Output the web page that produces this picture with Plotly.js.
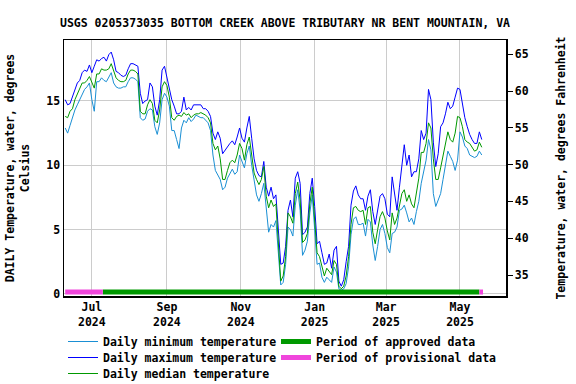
<!DOCTYPE html>
<html><head><meta charset="utf-8">
<script src="https://cdn.plot.ly/plotly-3.0.1.min.js"></script>
<style>html,body{margin:0;padding:0;background:#fff}#chart{width:576px;height:384px}</style>
</head><body><div id="chart"></div>
<script>
// Daily values sampled every 2 days starting 2024-06-09 (degrees Celsius)
const startDate = '2024-06-09';
const stepDays = 2;
const tempMax = [15.1,14.7,14.8,15.3,15.9,16.4,16.6,17.2,17.4,17.3,17.8,17.2,17.7,18.2,18.1,18.3,18.4,18.1,18.6,18.8,
18.2,17.3,17.2,17.0,16.9,17.0,17.5,17.9,17.9,17.8,17.7,15.6,14.8,15.0,15.1,16.4,16.1,14.6,13.9,15.1,
17.4,17.7,16.9,16.1,15.1,14.6,14.0,14.0,14.2,15.3,14.3,14.5,14.3,14.7,14.7,14.7,14.7,14.4,14.4,14.2,
13.8,12.5,12.0,12.6,12.1,10.9,11.2,11.5,11.7,11.9,11.6,12.2,12.9,12.1,11.8,12.9,13.8,12.1,10.5,9.6,
9.2,9.1,10.3,8.3,7.6,8.3,7.4,7.7,5.0,2.3,2.4,3.7,6.5,7.3,6.0,9.0,9.5,8.6,4.6,4.8,
5.2,7.8,9.0,6.8,3.9,4.1,3.2,2.3,2.4,3.1,2.0,3.4,3.7,1.0,0.6,1.1,2.5,3.7,6.9,8.0,
8.4,7.7,7.4,7.4,6.5,7.6,8.1,6.4,5.4,6.5,7.6,7.8,7.4,6.2,6.0,9.1,7.6,6.5,8.3,9.9,
11.6,10.0,10.8,9.1,9.5,9.5,10.5,12.7,12.0,12.5,15.9,15.1,11.8,9.9,10.9,13.0,13.3,14.0,14.9,14.4,
14.6,15.3,16.0,15.9,14.8,13.7,13.0,12.4,12.0,11.7,11.7,12.6,12.0];
const tempMedian = [13.8,13.7,14.2,14.4,15.1,15.5,15.9,16.4,16.4,16.6,16.9,16.4,16.0,17.1,17.1,17.5,17.4,17.4,17.5,17.9,
17.3,16.8,16.6,16.5,16.5,16.6,17.1,17.4,17.4,17.3,17.1,14.2,14.0,14.0,14.7,15.1,14.8,13.5,13.3,14.3,
16.1,16.5,16.2,15.3,13.7,13.5,13.8,13.9,13.8,14.1,13.9,14.0,13.7,13.9,14.0,14.0,14.1,14.0,13.9,13.7,
13.3,11.7,11.2,11.5,10.5,8.9,8.9,9.6,10.2,10.4,10.2,10.8,11.7,11.3,10.4,11.6,12.2,10.8,9.4,8.9,
8.5,8.9,9.9,7.6,6.7,7.3,6.8,7.0,4.0,1.0,1.4,2.9,6.3,6.0,5.5,7.8,8.7,7.3,4.0,4.2,
4.7,7.0,8.3,6.0,3.2,2.9,2.1,1.4,2.0,1.7,1.5,2.6,2.3,0.6,0.4,0.6,1.4,2.9,5.4,6.7,
6.8,6.5,6.4,6.5,5.4,6.7,6.8,4.8,3.9,5.0,6.0,6.4,5.9,4.9,4.2,6.3,5.4,5.9,7.0,7.8,
8.1,7.2,7.7,7.0,6.7,8.0,9.0,11.0,11.0,11.7,13.3,12.9,10.5,8.9,8.9,9.8,10.8,11.7,12.6,12.0,
11.8,12.5,13.8,13.7,13.0,12.0,11.8,11.7,11.4,11.1,11.2,11.8,11.4];
const tempMin = [12.9,12.5,13.1,13.7,14.3,14.7,15.1,15.6,15.9,16.1,16.4,15.1,14.2,16.5,16.5,16.8,16.6,16.5,16.9,17.2,
16.4,16.1,16.0,16.0,16.1,16.1,16.5,16.8,16.8,16.7,16.5,13.7,13.5,13.6,14.2,14.4,14.3,13.0,12.4,13.3,
15.1,15.6,15.3,14.6,12.7,12.7,12.0,11.3,12.9,13.5,13.3,13.7,13.4,13.6,13.9,13.8,13.7,13.7,13.5,13.3,
12.7,10.8,9.6,9.3,8.9,8.1,8.3,9.0,9.4,9.7,9.3,9.5,10.8,10.3,9.8,10.9,11.5,10.0,8.9,7.7,
7.2,7.8,8.6,6.7,4.8,5.4,5.2,5.7,3.3,0.7,0.9,2.3,5.2,5.0,4.5,6.9,8.1,6.5,3.0,3.4,
4.1,6.3,7.7,5.0,2.3,2.4,1.3,0.9,1.3,1.1,0.9,2.1,1.7,0.4,0.3,0.4,0.8,2.1,4.6,5.8,
6.0,5.4,5.4,5.5,4.5,5.8,5.6,3.8,2.6,3.7,5.0,5.4,4.7,3.6,3.2,4.7,4.8,5.2,6.5,6.6,
6.9,6.3,5.6,5.9,5.4,6.4,7.2,8.6,9.5,10.4,12.0,11.2,7.8,6.8,7.3,7.8,8.9,10.2,11.1,10.7,
10.3,9.6,10.4,12.6,12.2,11.5,11.3,10.8,10.7,10.6,10.7,11.1,10.8];
// Data-approval periods
const provisionalStart = ['2024-06-09','2025-05-17'];
const provisionalEnd = ['2024-07-10','2025-05-20'];
const approvedStart = '2024-07-10';
const approvedEnd = '2025-05-17';
const periodLevel = 0.15;

function dateAt(i){
  const d = new Date(startDate + 'T00:00:00Z');
  d.setUTCDate(d.getUTCDate() + i*stepDays);
  return d.toISOString().slice(0,10);
}
const dates = tempMax.map((_,i)=>dateAt(i));

const FONT = 'DejaVu Sans Mono, monospace';
const fnt = {family: FONT, size: 11.5, color: '#000', weight: 'bold'};

const traces = [
  {x: dates, y: tempMin, type:'scatter', mode:'lines', name:'Daily minimum temperature',
   line:{color:'#1a8fd4', width:1}, legend:'legend', hoverinfo:'skip'},
  {x: dates, y: tempMax, type:'scatter', mode:'lines', name:'Daily maximum temperature',
   line:{color:'#0000ff', width:1}, legend:'legend2', hoverinfo:'skip'},
  {x: dates, y: tempMedian, type:'scatter', mode:'lines', name:'Daily median temperature',
   line:{color:'#009900', width:1}, legend:'legend3', hoverinfo:'skip'},
  {x: [approvedStart, approvedEnd], y: [periodLevel, periodLevel], type:'scatter', mode:'lines',
   name:'Period of approved data', line:{color:'#009900', width:5}, legend:'legend4', hoverinfo:'skip'},
  {x: [provisionalStart[0], provisionalEnd[0], null, provisionalStart[1], provisionalEnd[1]],
   y: [periodLevel, periodLevel, null, periodLevel, periodLevel], type:'scatter', mode:'lines',
   name:'Period of provisional data', line:{color:'#f046dc', width:5}, legend:'legend5', hoverinfo:'skip'},
  {x: [dates[0]], y: [null], yaxis:'y2', type:'scatter', mode:'lines', showlegend:false, hoverinfo:'skip'}
];

function legendCell(left, top){
  return {orientation:'h', xref:'container', yref:'container', x:left/576, y:1-top/384,
    xanchor:'left', yanchor:'top', font:fnt, bgcolor:'rgba(0,0,0,0)'};
}

const layout = {
  width:576, height:384,
  margin:{l:64, r:70, t:40, b:88, autoexpand:false},
  paper_bgcolor:'#fff', plot_bgcolor:'#fff',
  font: fnt,
  showlegend:true,
  title:{text:'USGS 0205373035 BOTTOM CREEK ABOVE TRIBUTARY NR BENT MOUNTAIN, VA',
    font:fnt, x:0.5, xref:'paper', y:1-23/384, yref:'container', yanchor:'middle'},
  xaxis:{type:'date', range:['2024-06-08','2025-06-08'], tick0:'2024-07-01', dtick:'M2',
    tickformat:'%b<br>%Y', showgrid:true, gridcolor:'#cccccc', gridwidth:1,
    showline:true, linecolor:'#000', linewidth:1.5, mirror:true, ticks:'', tickfont:fnt, zeroline:false},
  yaxis:{range:[-0.16,19.74], tick0:0, dtick:5, showgrid:true, gridcolor:'#cccccc', gridwidth:1,
    showline:true, linecolor:'#000', linewidth:1.5, mirror:true, ticks:'', zeroline:false, tickfont:fnt,
    automargin:true,
    title:{text:'DAILY Temperature, water, degrees<br>Celsius', font:fnt, standoff:14}},
  yaxis2:{overlaying:'y', side:'right', range:[32.15,66.94], tick0:35, dtick:5, showgrid:false,
    showline:true, linecolor:'#000', linewidth:1.5, ticks:'outside', ticklen:5, tickcolor:'#000', zeroline:false, tickfont:fnt,
    automargin:true,
    title:{text:'Temperature, water, degrees Fahrenheit', font:fnt, standoff:29}},
  legend: legendCell(63, 327),
  legend2: legendCell(63, 343),
  legend3: legendCell(63, 359),
  legend4: legendCell(276, 327),
  legend5: legendCell(276, 343)
};
Plotly.newPlot('chart', traces, layout, {staticPlot:true, displayModeBar:false});
</script></body></html>
